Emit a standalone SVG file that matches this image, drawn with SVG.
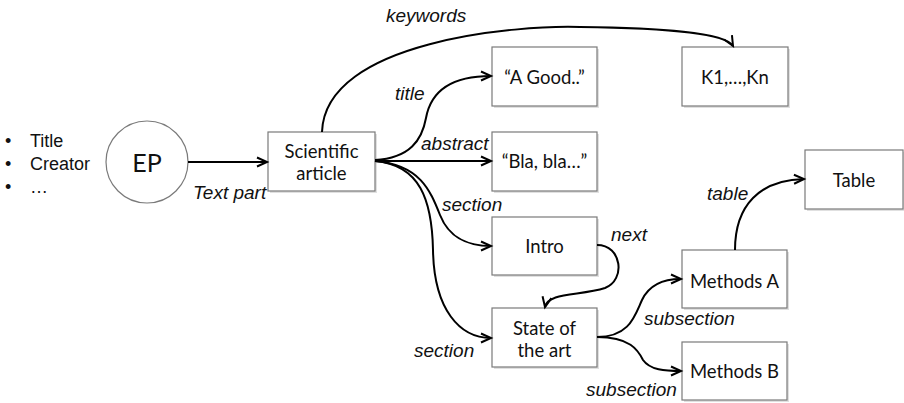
<svg xmlns="http://www.w3.org/2000/svg" width="904" height="403" viewBox="0 0 904 403">
<style>
.box{fill:#fff;stroke:#7a7a7a;stroke-width:1.2}
.sh{fill:#000;opacity:0.12}
.bt{font-family:Lato,"Open Sans",sans-serif;font-size:18.5px;fill:#111;text-anchor:middle}
.lb{font-family:"Liberation Sans",Arial,sans-serif;font-style:italic;font-size:19px;fill:#111}
.bl{font-family:"Liberation Sans",Arial,sans-serif;font-size:18px;fill:#111}
.e{fill:none;stroke:#000;stroke-width:2}
</style>
<defs>
<marker id="ah" markerUnits="userSpaceOnUse" markerWidth="14" markerHeight="14" refX="11" refY="6" orient="auto">
<path d="M1,1.5 L11,6 L1,10.5" fill="none" stroke="#000" stroke-width="2" stroke-linejoin="miter"/>
</marker>
</defs>
<rect width="904" height="403" fill="#fff"/>
<g id="metadata">
<text class="bl" x="5" y="147">•</text>
<text class="bl" x="30" y="147">Title</text>
<text class="bl" x="5" y="170">•</text>
<text class="bl" x="30" y="170">Creator</text>
<text class="bl" x="5" y="193">•</text>
<text class="bl" x="30" y="193">…</text>
</g>
<g id="EP">
<circle cx="147" cy="162" r="41" fill="#fff" stroke="#7a7a7a" stroke-width="1.2"/>
<text class="bt" x="147" y="172" style="font-size:25px">EP</text>
</g>
<g id="scientific-article">
<rect class="sh" x="270" y="134" width="107" height="59"/>
<rect class="box" x="268" y="132" width="107" height="59"/>
<text class="bt" x="321.5" y="158">Scientific</text>
<text class="bt" x="321.5" y="180">article</text>
</g>
<g id="a-good">
<rect class="sh" x="494" y="49" width="105" height="59"/>
<rect class="box" x="492" y="47" width="105" height="59"/>
<text class="bt" x="544.5" y="84">“A Good..”</text>
</g>
<g id="keywords-box">
<rect class="sh" x="684" y="49" width="106" height="59"/>
<rect class="box" x="682" y="47" width="106" height="59"/>
<text class="bt" x="735" y="84">K1,…,Kn</text>
</g>
<g id="bla">
<rect class="sh" x="494" y="134" width="105" height="59"/>
<rect class="box" x="492" y="132" width="105" height="59"/>
<text class="bt" x="544.5" y="168">“Bla, bla…”</text>
</g>
<g id="intro">
<rect class="sh" x="494" y="219" width="105" height="58"/>
<rect class="box" x="492" y="217" width="105" height="58"/>
<text class="bt" x="544.5" y="253">Intro</text>
</g>
<g id="state-of-the-art">
<rect class="sh" x="494" y="310" width="105" height="59"/>
<rect class="box" x="492" y="308" width="105" height="59"/>
<text class="bt" x="544.5" y="335">State of</text>
<text class="bt" x="544.5" y="357">the art</text>
</g>
<g id="methods-a">
<rect class="sh" x="684" y="252" width="105" height="58"/>
<rect class="box" x="682" y="250" width="105" height="58"/>
<text class="bt" x="734.5" y="288">Methods A</text>
</g>
<g id="methods-b">
<rect class="sh" x="684" y="344" width="105" height="58"/>
<rect class="box" x="682" y="342" width="105" height="58"/>
<text class="bt" x="734.5" y="378">Methods B</text>
</g>
<g id="table">
<rect class="sh" x="807" y="152" width="98" height="59"/>
<rect class="box" x="805" y="150" width="98" height="59"/>
<text class="bt" x="854" y="187">Table</text>
</g>
<g id="connectors">
<path class="e" d="M188,162 L267,162" marker-end="url(#ah)"/>
<path class="e" d="M322,132 C325,40 520,25 580,27 C660,28 725,32 733,46" marker-end="url(#ah)"/>
<path class="e" d="M375,160 C410,158 422,140 426,118 C432,85 460,76 491,76" marker-end="url(#ah)"/>
<path class="e" d="M375,161 L491,161" marker-end="url(#ah)"/>
<path class="e" d="M375,161 C420,165 430,190 440,215 C450,240 470,246 491,246" marker-end="url(#ah)"/>
<path class="e" d="M375,161 C420,165 432,200 433,250 C434,310 460,338 491,338" marker-end="url(#ah)"/>
<path class="e" d="M597,245 C622,245 626,280 605,288 C580,296 548,292 545,307" marker-end="url(#ah)"/>
<path class="e" d="M597,337 C630,337 635,315 642,300 C650,283 665,279 681,279" marker-end="url(#ah)"/>
<path class="e" d="M597,337 C630,337 638,350 643,360 C650,370 665,371 681,371" marker-end="url(#ah)"/>
<path class="e" d="M735,250 C735,205 760,180 804,179" marker-end="url(#ah)"/>
</g>
<g id="labels">
<text class="lb" x="386" y="22">keywords</text>
<text class="lb" x="395" y="100">title</text>
<text class="lb" x="421" y="150">abstract</text>
<text class="lb" x="442" y="211">section</text>
<text class="lb" x="611" y="241">next</text>
<text class="lb" x="414" y="357">section</text>
<text class="lb" x="644" y="325">subsection</text>
<text class="lb" x="586" y="396">subsection</text>
<text class="lb" x="707" y="200">table</text>
<text class="lb" x="193" y="199">Text part</text>
</g>
</svg>
